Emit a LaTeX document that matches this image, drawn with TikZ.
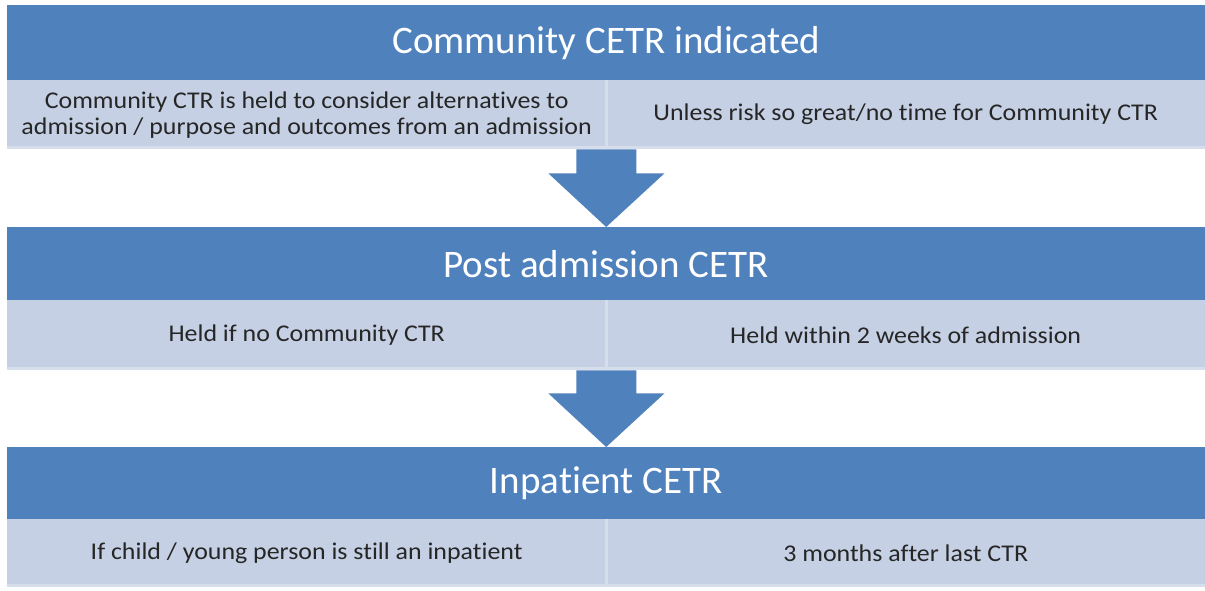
\documentclass[tikz,border=0pt]{standalone}
\usepackage{fontspec}
\setmainfont{Carlito}[Ligatures={NoCommon,NoRequired,NoContextual}, RawFeature=-calt]
\newfontfamily\cellfont{Carlito}[Ligatures={NoCommon,NoRequired,NoContextual}, RawFeature=-calt, FakeStretch=1.08]
\usetikzlibrary{calc}
\definecolor{hdrblue}{HTML}{4F81BD}
\definecolor{cellblue}{HTML}{C5D0E4}
\definecolor{txtgray}{HTML}{262626}
\definecolor{divline}{HTML}{D6DEEB}
\begin{document}
\begin{tikzpicture}[x=1pt,y=-1pt,
  header/.style={fill=hdrblue, text=white, minimum width=1198pt, minimum height=75pt,
    inner sep=0pt, anchor=north west, font=\fontsize{39}{44}\selectfont},
  cell/.style={fill=cellblue, text=txtgray, minimum width=599pt, minimum height=69pt,
    inner sep=0pt, anchor=north west, align=center, font=\cellfont\fontsize{24}{26}\selectfont},
  flowarrow/.style={fill=hdrblue},
  divider/.style={draw=divline, line width=2.5pt},
  bottomstrip/.style={draw=divline, line width=3pt}
]
\useasboundingbox[fill=white] (0,0) rectangle (1205,591);

% Section 1
\node[header] (h1) at (7,5) {Community CETR indicated};
\node[cell] (c1l) at (7,80) {Community CTR is held to consider alternat{}ives to\\admission / purpose and outcomes from an admission};
\node[cell] (c1r) at (606,80) {Unless risk so great/no t{}ime for Community CTR};
\draw[divider] (c1l.north east) -- (c1l.south east);
\draw[bottomstrip] ($(c1l.south west)+(0,-1.5)$) -- ($(c1r.south east)+(0,-1.5)$);

% Section 2
\node[header, minimum height=73pt] (h2) at (7,227) {Post admission CETR};
\node[cell, minimum height=70pt] (c2l) at (7,300) {Held if no Community CTR};
\node[cell, minimum height=70pt] (c2r) at (606,300) {Held within 2 weeks of admission};
\draw[divider] (c2l.north east) -- (c2l.south east);
\draw[bottomstrip] ($(c2l.south west)+(0,-1.5)$) -- ($(c2r.south east)+(0,-1.5)$);

% Section 3
\node[header, minimum height=72pt] (h3) at (7,447) {Inpat{}ient CETR};
\node[cell, minimum height=68pt] (c3l) at (7,519) {If child / young person is st{}ill an inpat{}ient};
\node[cell, minimum height=68pt] (c3r) at (606,519) {3 months after last CTR};
\draw[divider] (c3l.north east) -- (c3l.south east);
\draw[bottomstrip] ($(c3l.south west)+(0,-1.5)$) -- ($(c3r.south east)+(0,-1.5)$);

% Arrow 1
\fill[flowarrow] ($(c1l.south east)+(-30,0)$) -- ($(c1l.south east)+(30,0)$)
  -- ($(c1l.south east)+(30,24)$) -- ($(c1l.south east)+(58,24)$)
  -- ($(h2.north)$) -- ($(c1l.south east)+(-58,24)$)
  -- ($(c1l.south east)+(-30,24)$) -- cycle;
% Arrow 2
\fill[flowarrow] ($(c2l.south east)+(-30,0)$) -- ($(c2l.south east)+(30,0)$)
  -- ($(c2l.south east)+(30,23)$) -- ($(c2l.south east)+(58,23)$)
  -- ($(h3.north)$) -- ($(c2l.south east)+(-58,23)$)
  -- ($(c2l.south east)+(-30,23)$) -- cycle;
\end{tikzpicture}
\end{document}
